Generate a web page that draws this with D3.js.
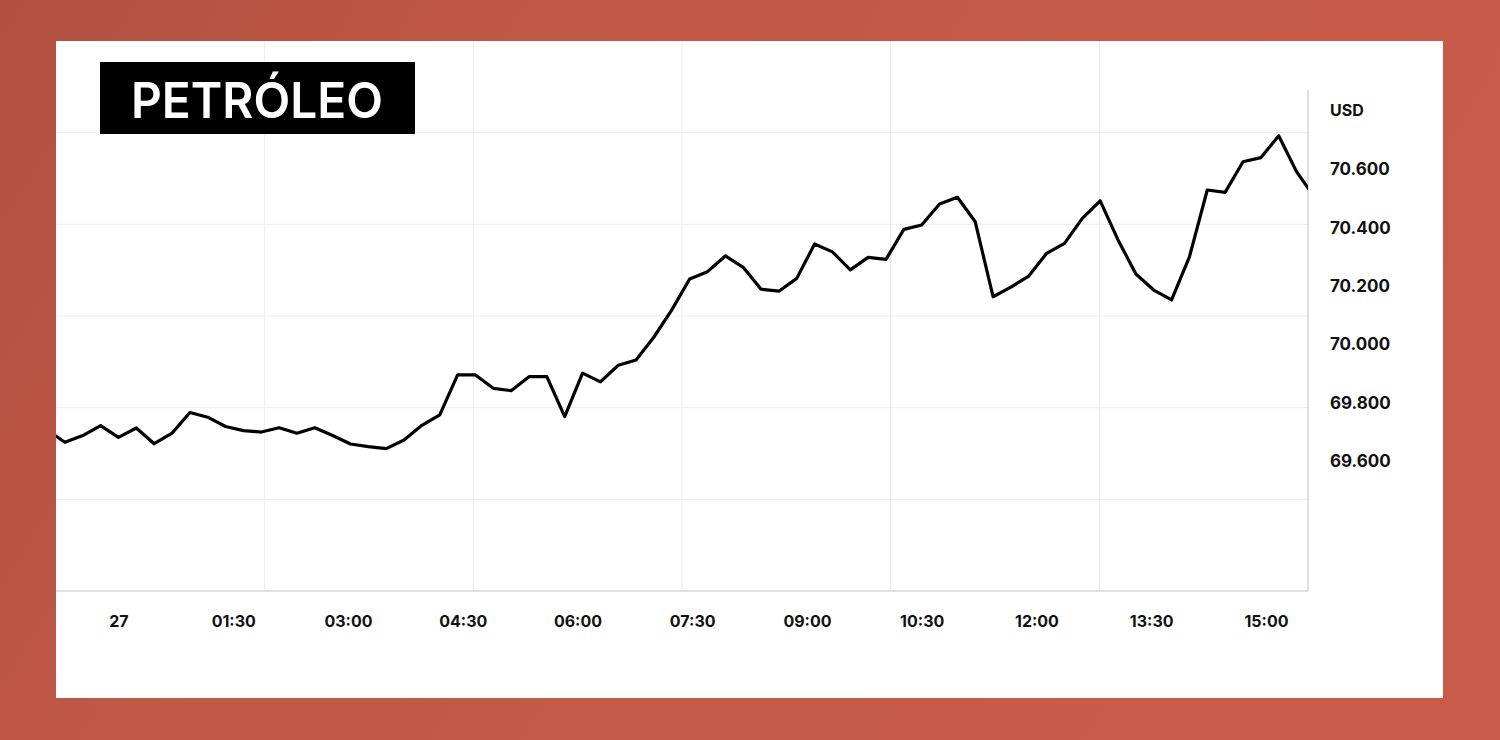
<!DOCTYPE html>
<html>
<head>
<meta charset="utf-8">
<script src="https://cdn.jsdelivr.net/npm/d3@7"></script>
<style>
    body { margin: 0; background: #c35a47; }
    svg { display: block; }
    .axis text {
        font-family: Inter, "Noto Sans", sans-serif;
        font-weight: 700;
        fill: #111;
    }
    .grid line { stroke: #ececec; stroke-width: 1; }
    .price-line { fill: none; stroke: #000; stroke-width: 3.2; stroke-linejoin: round; }
</style>
</head>
<body>
<script>
    // quotes, one every 14 minutes
    var times = [
        "26 23:04", "26 23:18", "26 23:32", "26 23:46", "27 00:00", "27 00:14", "27 00:28", "27 00:42",
        "27 00:56", "27 01:10", "27 01:24", "27 01:38", "27 01:52", "27 02:06", "27 02:20", "27 02:34",
        "27 02:48", "27 03:02", "27 03:16", "27 03:30", "27 03:44", "27 03:58", "27 04:12", "27 04:26",
        "27 04:40", "27 04:54", "27 05:08", "27 05:22", "27 05:36", "27 05:50", "27 06:04", "27 06:18",
        "27 06:32", "27 06:46", "27 07:00", "27 07:14", "27 07:28", "27 07:42", "27 07:56", "27 08:10",
        "27 08:24", "27 08:38", "27 08:52", "27 09:06", "27 09:20", "27 09:34", "27 09:48", "27 10:02",
        "27 10:16", "27 10:30", "27 10:44", "27 10:58", "27 11:12", "27 11:26", "27 11:40", "27 11:54",
        "27 12:08", "27 12:22", "27 12:36", "27 12:50", "27 13:04", "27 13:18", "27 13:32", "27 13:46",
        "27 14:00", "27 14:14", "27 14:28", "27 14:42", "27 14:56", "27 15:10", "27 15:24", "27 15:38"
    ];
    var prices = [
        69.706, 69.664, 69.687, 69.721, 69.681, 69.713, 69.659, 69.695,
        69.766, 69.750, 69.718, 69.704, 69.699, 69.714, 69.695, 69.714,
        69.687, 69.658, 69.649, 69.642, 69.672, 69.722, 69.758, 69.895,
        69.895, 69.849, 69.841, 69.889, 69.889, 69.752, 69.901, 69.871,
        69.928, 69.946, 70.025, 70.118, 70.224, 70.249, 70.303, 70.264,
        70.189, 70.182, 70.226, 70.344, 70.317, 70.255, 70.298, 70.291,
        70.394, 70.409, 70.481, 70.504, 70.420, 70.163, 70.196, 70.234,
        70.312, 70.346, 70.432, 70.492, 70.358, 70.241, 70.186, 70.152,
        70.300, 70.529, 70.521, 70.626, 70.640, 70.715, 70.592, 70.505
    ];
    var xTicks = ["27 00:00", "27 01:30", "27 03:00", "27 04:30", "27 06:00", "27 07:30",
                  "27 09:00", "27 10:30", "27 12:00", "27 13:30", "27 15:00"];
    var xRange = ["26 23:11", "27 15:33"];
    var yTicks = [69.6, 69.8, 70.0, 70.2, 70.4, 70.6];
    var yRange = [69.154, 71.04];
    var unit = "USD";
    var title = "PETRÓLEO";

    var W = 1500, H = 740;
    var panel = {x: 56, y: 41, w: 1387, h: 657};
    var margin = {top: 41, left: 56},
        width = 1252,
        height = 550;

    var parse = d3.timeParse("%d %H:%M");
    var data = times.map(function (t, i) { return {date: parse(t), value: prices[i]}; });

    var svg = d3.select("body").append("svg")
        .attr("width", W)
        .attr("height", H);

    var defs = svg.append("defs");
    var bg = defs.append("linearGradient").attr("id", "bg")
        .attr("x1", 0).attr("y1", 0).attr("x2", 1).attr("y2", 0.3);
    bg.append("stop").attr("offset", 0).attr("stop-color", "#b1503f");
    bg.append("stop").attr("offset", 0.35).attr("stop-color", "#c05846");
    bg.append("stop").attr("offset", 1).attr("stop-color", "#c95c48");
    defs.append("clipPath").attr("id", "plot-clip")
        .append("rect").attr("width", width).attr("height", height);

    svg.append("rect").attr("width", W).attr("height", H).attr("fill", "url(#bg)");
    svg.append("rect")
        .attr("x", panel.x).attr("y", panel.y)
        .attr("width", panel.w).attr("height", panel.h)
        .attr("fill", "#fff");

    var g = svg.append("g")
        .attr("transform", "translate(" + margin.left + "," + margin.top + ")");

    var x = d3.scaleTime().domain(xRange.map(parse)).range([0, width]);
    var y = d3.scaleLinear().domain(yRange).range([height, 0]);

    // background grid: six equal bands each way
    var grid = g.append("g").attr("class", "grid");
    grid.selectAll(".h").data(d3.range(1, 6)).enter().append("line")
        .attr("x1", 0).attr("x2", width)
        .attr("y1", function (d) { return d * height / 6; })
        .attr("y2", function (d) { return d * height / 6; });
    grid.selectAll(".v").data(d3.range(1, 6)).enter().append("line")
        .attr("y1", 0).attr("y2", height)
        .attr("x1", function (d) { return d * width / 6; })
        .attr("x2", function (d) { return d * width / 6; });

    // axis lines
    g.append("line")
        .attr("x1", 0).attr("x2", width)
        .attr("y1", height).attr("y2", height)
        .attr("stroke", "#d4d4d4").attr("stroke-width", 1.5);
    g.append("line")
        .attr("x1", width).attr("x2", width)
        .attr("y1", 49).attr("y2", height)
        .attr("stroke", "#d4d4d4").attr("stroke-width", 1.5);

    var line = d3.line()
        .x(function (d) { return x(d.date); })
        .y(function (d) { return y(d.value); });

    g.append("path")
        .datum(data)
        .attr("class", "price-line")
        .attr("clip-path", "url(#plot-clip)")
        .attr("d", line);

    var fmtDay = d3.timeFormat("%d"), fmtTime = d3.timeFormat("%H:%M");
    var xAxis = g.append("g")
        .attr("class", "axis")
        .attr("transform", "translate(0," + height + ")")
        .call(d3.axisBottom(x)
            .tickValues(xTicks.map(parse))
            .tickSize(0)
            .tickPadding(25)
            .tickFormat(function (d) {
                return (d.getHours() === 0 && d.getMinutes() === 0) ? fmtDay(d) : fmtTime(d);
            }));
    xAxis.select(".domain").remove();
    xAxis.selectAll("text").style("font-size", "16px");

    var yAxis = g.append("g")
        .attr("class", "axis")
        .attr("transform", "translate(" + width + ",0)")
        .call(d3.axisRight(y)
            .tickValues(yTicks)
            .tickSize(0)
            .tickPadding(22)
            .tickFormat(d3.format(".3f")));
    yAxis.select(".domain").remove();
    yAxis.selectAll("text").style("font-size", "17px");

    // unit sits one tick step above the top tick
    yAxis.append("text")
        .attr("x", 22)
        .attr("y", y(yTicks[yTicks.length - 1] + 0.2))
        .attr("dy", "0.32em")
        .attr("text-anchor", "start")
        .style("font-size", "16px")
        .text(unit);

    // title badge
    svg.append("rect")
        .attr("x", 100).attr("y", 62)
        .attr("width", 315).attr("height", 72)
        .attr("fill", "#000");
    svg.append("text")
        .attr("x", 131).attr("y", 118)
        .attr("textLength", 252)
        .attr("lengthAdjust", "spacingAndGlyphs")
        .style("font-family", "Inter, 'Noto Sans', sans-serif")
        .style("font-weight", 600)
        .style("font-size", "50px")
        .attr("fill", "#fff")
        .text(title);
</script>
</body>
</html>
